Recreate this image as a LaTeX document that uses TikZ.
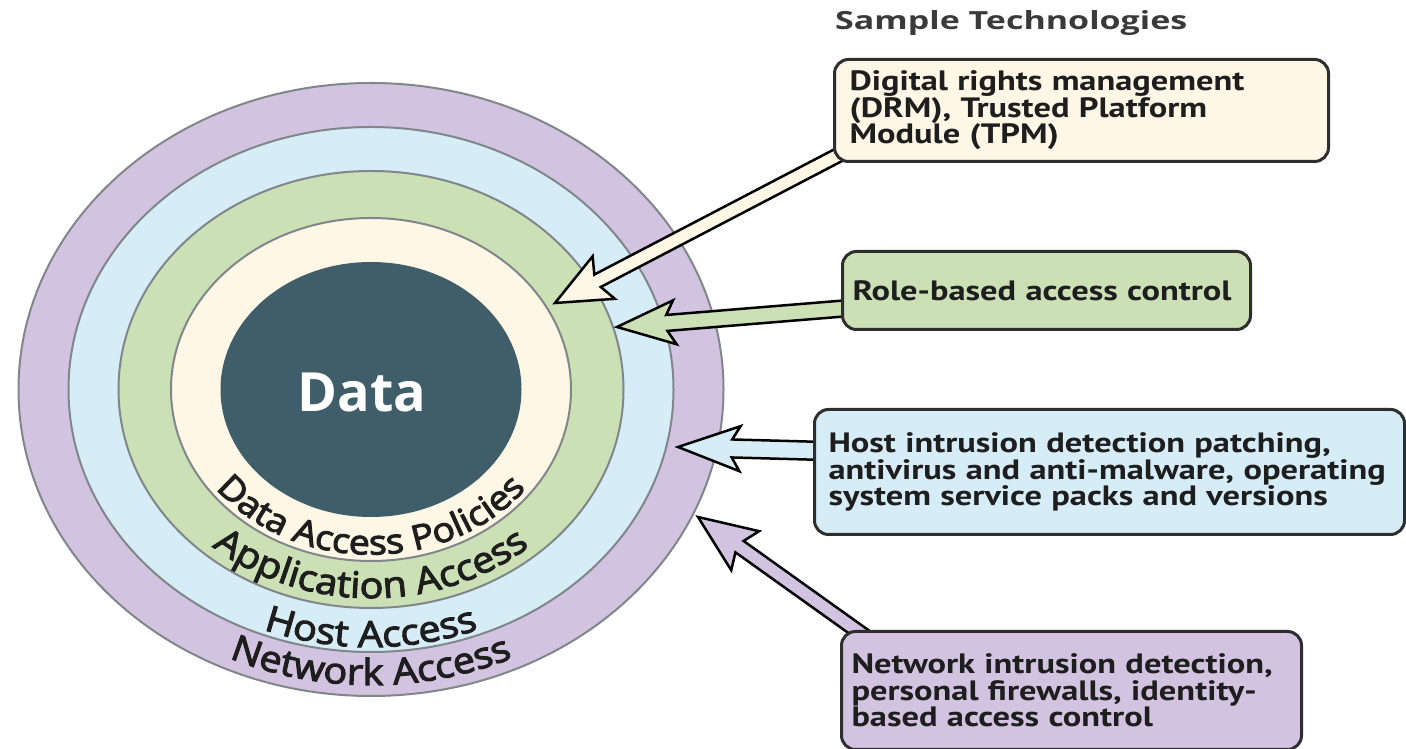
\documentclass[tikz,border=0pt]{standalone}
\usepackage{fontspec}
\setmainfont{Open Sans}
\newfontfamily\ringfont[FakeStretch=1.1, FakeBold=3]{Open Sans}
\newfontfamily\titlefont[FakeStretch=1.36]{Open Sans}
\newfontfamily\boxfont[FakeStretch=1.23]{PT Sans}
\usetikzlibrary{calc,decorations.text}
\definecolor{netc}{HTML}{D2C4E0}
\definecolor{hostc}{HTML}{D6EDF8}
\definecolor{appc}{HTML}{CCE0B5}
\definecolor{creamc}{HTML}{FFF7E5}
\definecolor{datac}{HTML}{405E6A}
\definecolor{ringline}{HTML}{80868A}
\definecolor{boxline}{HTML}{2E2E2E}
\definecolor{txtc}{HTML}{1E1E1E}
\definecolor{titlec}{HTML}{3A3A3A}
\tikzset{
  ringdraw/.style={draw=ringline, line width=2pt},
  arrline/.style={draw=black, line width=2.5pt, line join=miter, miter limit=10},
  tbox/.style={draw=boxline, line width=3pt, rounded corners=14pt, anchor=north west,
    align=left, inner ysep=0pt, text=txtc,
    font=\boxfont\bfseries\fontsize{28}{26.5}\selectfont},
}
% fill, tail, tip, shaft half-width, barb half-width, barb distance, join distance
\newcommand\blockarr[7]{%
  \coordinate (hb) at ($(#3)!#6!(#2)$);
  \coordinate (hj) at ($(#3)!#7!(#2)$);
  \draw[arrline, fill=#1] ($(#2)!#4!90:(#3)$) -- ($(hj)!#4!90:(#3)$) -- ($(hb)!#5!90:(#3)$)
    -- (#3) -- ($(hb)!#5!-90:(#3)$) -- ($(hj)!#4!-90:(#3)$) -- ($(#2)!#4!-90:(#3)$) -- cycle;}
\newcommand\ringlabel[4]{%
  \path[decorate, decoration={text along path, text align=center, text color=txtc,
    text={|\ringfont\fontsize{#4}{#4}\selectfont|#1}}]
    ($(C)+(200:#2 and #3)$) arc[start angle=200, end angle=340, x radius=#2, y radius=#3];}
\begin{document}
\begin{tikzpicture}[x=1pt,y=1pt]
\useasboundingbox (0,0) rectangle (1406,749);
\coordinate (C) at (371,359.5);
% rings
\draw[ringdraw, fill=netc] (C) ellipse [x radius=352.5pt, y radius=306.5pt];
\draw[ringdraw, fill=hostc] (C) ellipse [x radius=302.5pt, y radius=262.5pt];
\draw[ringdraw, fill=appc] (C) ellipse [x radius=252.5pt, y radius=218.5pt];
\draw[ringdraw, fill=creamc] (C) ellipse [x radius=200pt, y radius=171.5pt];
\fill[datac] (C) ellipse [x radius=150.5pt, y radius=127.5pt];
\node[text=white, font=\bfseries\fontsize{54}{54}\selectfont] (data) at (362,357) {Data};
% ring labels
\ringlabel{Data Access Policies}{194pt}{165pt}{34}
\ringlabel{Application Access}{241pt}{208.5pt}{36}
\ringlabel{Host Access}{296pt}{257.5pt}{36}
\ringlabel{Network Access}{339pt}{295.5pt}{36}
% arrow end points
\coordinate (t1) at (850,600);  \coordinate (p1) at (555,446);
\coordinate (t2) at (850,441);  \coordinate (p2) at (617,422);
\coordinate (t3) at (825,298);  \coordinate (p3) at (678,302);
\coordinate (t4) at (866,112);  \coordinate (p4) at (698,232);
\blockarr{creamc}{t1}{p1}{7pt}{24pt}{55pt}{48pt}
\blockarr{appc}{t2}{p2}{8pt}{22pt}{58pt}{50pt}
\blockarr{hostc}{t3}{p3}{9pt}{22.5pt}{62pt}{54pt}
\blockarr{netc}{t4}{p4}{7pt}{24pt}{58pt}{51pt}
% boxes
\node[tbox, fill=creamc, minimum width=494pt, minimum height=102pt, text width=464pt, inner xsep=15pt]
  (drm) at (833,691) {Digital rights management\\(DRM), Trusted Platform\\Module (TPM)};
\node[tbox, fill=appc, minimum width=408pt, minimum height=78pt, text width=388pt, inner xsep=10pt]
  (rbac) at (841,499) {Role-based access control};
\node[tbox, fill=hostc, minimum width=590pt, minimum height=125pt, text width=562pt, inner xsep=14pt]
  (hids) at (813,341) {Host intrusion detection patching,\\antivirus and anti-malware, operating\\system service packs and versions};
\node[tbox, fill=netc, minimum width=460pt, minimum height=118pt, text width=440pt, inner xsep=10pt]
  (nids) at (840,119) {Network intrusion detection,\\personal firewalls, identity-\\based access control};
% title
\node[anchor=base west, inner sep=0pt, text=titlec, font=\titlefont\bfseries\fontsize{25}{25}\selectfont]
  (title) at (835,719) {Sample Technologies};
\end{tikzpicture}
\end{document}
